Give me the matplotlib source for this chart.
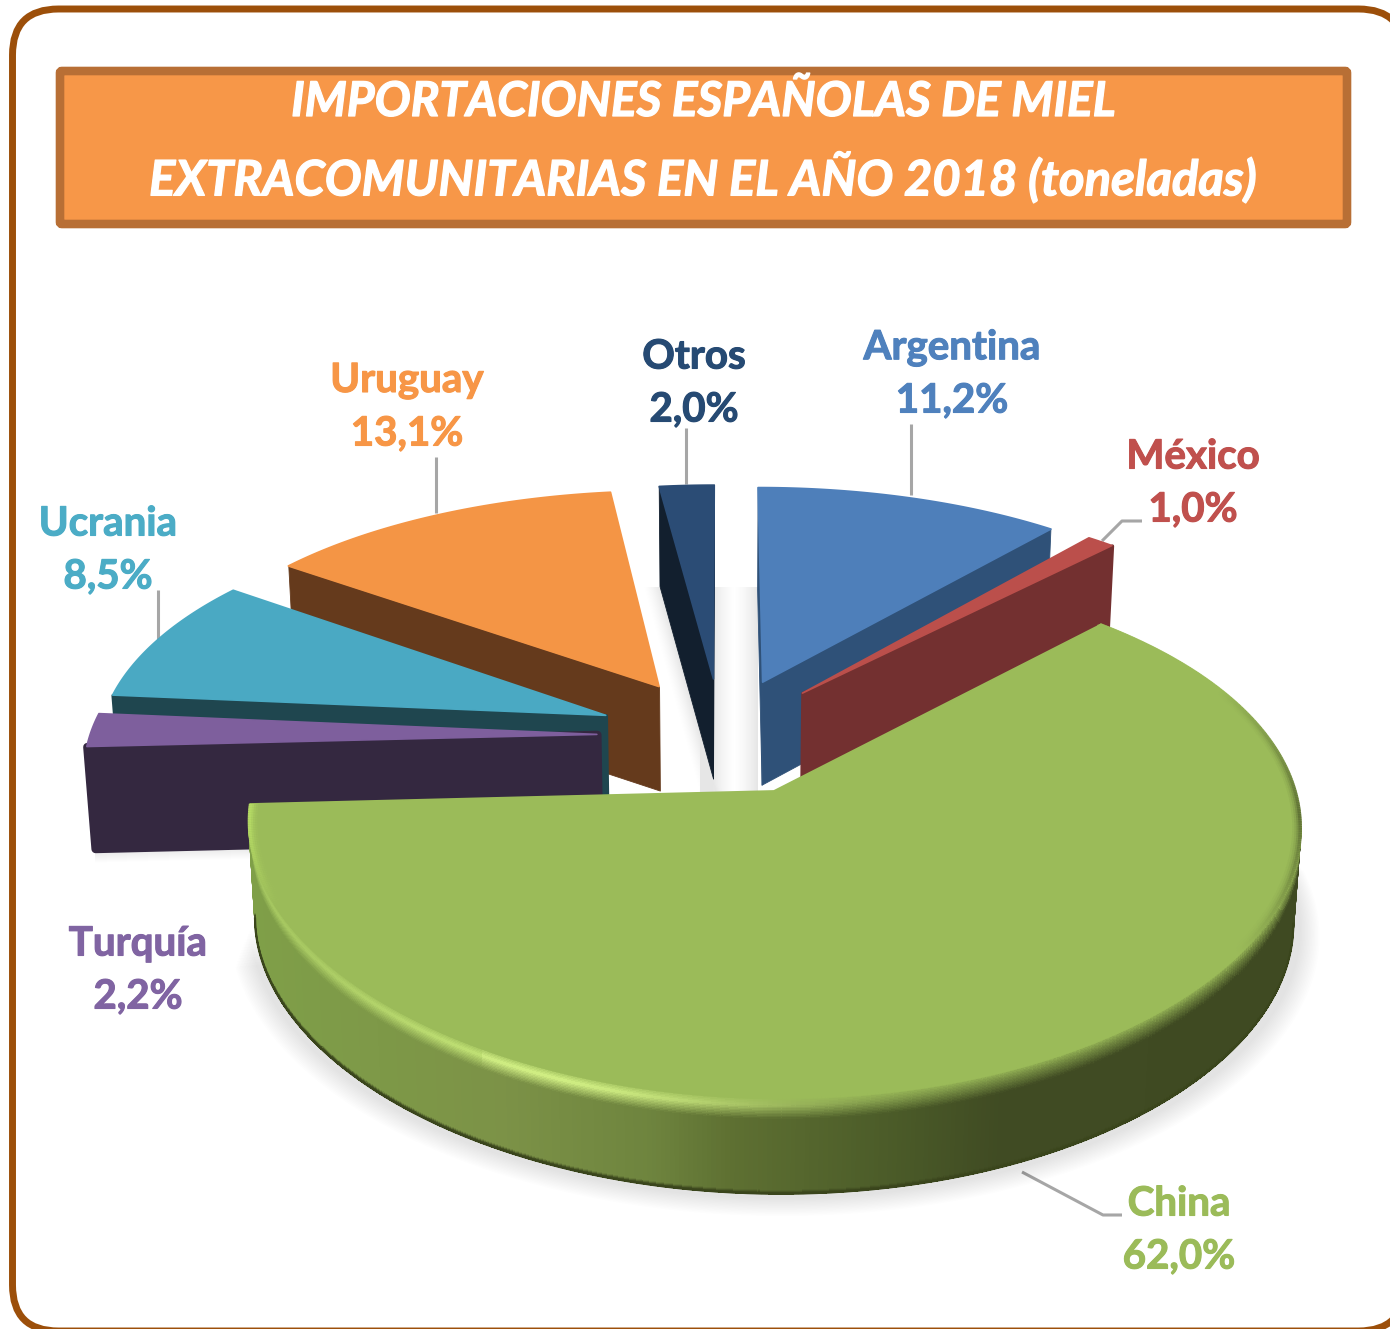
import numpy as np
import matplotlib
matplotlib.use("Agg")
import matplotlib.pyplot as plt
import matplotlib.patheffects as pe
from matplotlib.collections import PolyCollection, LineCollection
from matplotlib.colors import to_rgb
from matplotlib.patches import FancyBboxPatch, Polygon

# clockwise from 12 o'clock
names = ["Argentina", "México", "China", "Turquía", "Ucrania", "Uruguay", "Otros"]
values = [11.2, 1.0, 62.0, 2.2, 8.5, 13.1, 2.0]
top_colors = ["#4E7FBA", "#BB4F4B", "#9BBB59", "#7E5F9D", "#4AA9C3", "#F49545", "#2B4C75"]
wall_colors = ["#2F5178", "#733030", "#3F4A22", "#342840", "#1F464F", "#653A1C", "#121F2E"]
text_colors = ["#4F81BD", "#C0504D", "#9BBB59", "#8064A2", "#4BACC6", "#F79646", "#264A73"]
wall_height = [103, 100, 96, 102, 100, 104, 100]
wall_round = [0.6, 2.5, 0, 6, 2.5, 0.6, 0.6]
label_x = [952, 1193, 1179, 138, 108, 407, 694]
label_y = [346, 455, 1202, 942, 522, 379, 355]
draw_order = ["Otros", "Argentina", "Uruguay", "México", "Ucrania", "Turquía", "China"]
title_lines = ["IMPORTACIONES ESPAÑOLAS DE MIEL", "EXTRACOMUNITARIAS EN EL AÑO 2018 (toneladas)"]
title_sizes = [34.5, 35.2]

# projection of the tilted pie, in pixels
CX, CY = 721, 735.5
SCALE, DEPTH = 507, 240
PERSP_X, PERSP_Y = 0.125, 0.155
EXPLODE = 0.245
BEVEL = 22
TAPER = 0.013  # walls lean inwards going down

rim_x = [250, 500, 650, 730, 900, 1000, 1300]
rim_cols = ["#7F9F48", "#7C9247", "#6E843E", "#5E7032", "#4A5A28", "#404B23", "#3F4A22"]


def project(ang, r, mid):
    x = EXPLODE * np.sin(mid) + r * np.sin(ang)
    y = EXPLODE * np.cos(mid) + r * np.cos(ang)
    return CX + SCALE * x / (1 + PERSP_X * y), CY - DEPTH * y / (1 + PERSP_Y * y)


def down(x, y, dz, h):
    # point dz pixels below the top surface on a wall of height h
    return CX + (x - CX) * (1 - TAPER * dz / h), y + dz


def mix(a, b, t):
    return tuple((1 - t) * np.array(a) + t * np.array(b))


def china_rim(px):
    cols = np.array([to_rgb(c) for c in rim_cols])
    return tuple(np.interp(px, rim_x, cols[:, i]) for i in range(3))


def draw_walls(ax, xs, ys, wall, h, lw, z):
    # only the edges running leftwards on screen face the viewer
    polys = []
    for i in range(len(xs) - 1):
        if xs[i + 1] < xs[i]:
            polys.append([(xs[i], ys[i]), (xs[i + 1], ys[i + 1]),
                          down(xs[i + 1], ys[i + 1], h, h), down(xs[i], ys[i], h, h)])
    if polys:
        ax.add_collection(PolyCollection(polys, facecolors=wall, edgecolors=wall, linewidths=lw,
                                         joinstyle="round", zorder=z))


def draw_china_rim(ax, xs, ys, top, h, z):
    levels = np.concatenate([np.linspace(0, BEVEL, 16), [h - 3, h - 2, h - 1, h]])
    polys, cols = [], []
    under, under_cols = [], []
    for i in range(len(xs) - 1):
        if xs[i + 1] >= xs[i]:
            continue
        xm = 0.5 * (xs[i] + xs[i + 1])
        base = china_rim(xm)
        glow = np.exp(-((xm - 540) / 240.0) ** 2)
        hl = mix(mix(top, base, 0.45), to_rgb("#D4F286"), glow)
        if xm < 480:
            hl = mix(hl, to_rgb("#ADD262"), 0.4)
        under.append([(xs[i], ys[i]), (xs[i + 1], ys[i + 1]),
                      down(xs[i + 1], ys[i + 1], h, h), down(xs[i], ys[i], h, h)])
        under_cols.append(base)
        for a, b in zip(levels[:-1], levels[1:]):
            m = 0.5 * (a + b)
            if m < BEVEL * 0.4:
                c = mix(top, hl, m / (BEVEL * 0.4))
            elif m < BEVEL:
                c = mix(hl, base, (m - BEVEL * 0.4) / (BEVEL * 0.6))
            elif m > h - 3:
                c = mix(base, to_rgb("#3A451C"), (m - h + 3) / 3.0)
            else:
                c = base
            polys.append([down(xs[i], ys[i], a, h), down(xs[i + 1], ys[i + 1], a, h),
                          down(xs[i + 1], ys[i + 1], b, h), down(xs[i], ys[i], b, h)])
            cols.append(c)
    # antialiased underlay keeps the silhouette clean
    ax.add_collection(PolyCollection(under, facecolors=under_cols, edgecolors=under_cols, linewidths=1.0,
                                     zorder=z - 0.1))
    rim = PolyCollection(polys, facecolors=cols, edgecolors=cols, linewidths=0.6, antialiaseds=False, zorder=z)
    rim.set_snap(False)
    ax.add_collection(rim)
    # clean bottom outline, front part only
    front = np.r_[np.diff(xs) < 0, False]
    bx, by = down(xs[front], ys[front], h, h)
    ax.plot(bx, by, color="#3A451C", lw=1.6, zorder=z)


fig = plt.figure(figsize=(13.9, 13.29), dpi=100)
ax = fig.add_axes([0, 0, 1, 1])

# frame runs off the right and bottom of the picture
ax.add_patch(FancyBboxPatch((12.5, 9), 1392, 1322, boxstyle="round,pad=0,rounding_size=46",
                            fc="white", ec="#9C4F0A", lw=5, zorder=0))
ax.add_patch(FancyBboxPatch((60, 71), 1287, 153, boxstyle="round,pad=0,rounding_size=2",
                            fc="#F79748", ec="#B86F35", lw=6.2, zorder=1))
for line, y, size in zip(title_lines, [102, 177], title_sizes):
    ax.text(703, y, line, color="white", fontsize=size, family="Lato", weight="bold", style="italic",
            ha="center", va="center", zorder=2,
            path_effects=[pe.withStroke(linewidth=0.9, foreground="white")])

# slice angles from the values
total = sum(values)
edges = np.radians(np.cumsum([0] + values) / total * 360)

# soft grey showing in the gaps between the far slices
gx, gy = np.meshgrid(np.linspace(630, 758, 128), np.linspace(587, 800, 100))
wall_edge = 660 + (gy - 587) * (713 - 660) / (782 - 587)
alpha = 0.10 * np.maximum.reduce([np.clip(1 - (758 - gx) / 26.0, 0, 1) ** 1.5,
                                  np.clip(1 - (gx - 713) / 24.0, 0, 1) ** 1.5 * (gx >= 700),
                                  np.clip(1 - np.abs(wall_edge - gx) / 18.0, 0, 1) ** 1.5])
shade = np.zeros(gx.shape + (4,))
shade[:, :, 3] = alpha
ax.imshow(shade, extent=[630, 758, 800, 587], aspect="auto", zorder=1, interpolation="bilinear")
ax.set_xlim(0, 1390)
ax.set_ylim(1329, 0)
ax.axis("off")

for name in draw_order:
    i = names.index(name)
    a0, a1 = edges[i], edges[i + 1]
    mid = 0.5 * (a0 + a1)
    ang = np.linspace(a0, a1, max(4, int(values[i] * 8)))
    z = 3 + draw_order.index(name)
    h = wall_height[i]

    ax0, ay0 = project(0.0, 0.0, mid)
    ox, oy = project(ang, 1.0, mid)
    xs = np.r_[ax0, ox, ax0]
    ys = np.r_[ay0, oy, ay0]

    # drop shadows on the page
    if name == "China":
        for d in np.linspace(1.0, 1.035, 14):
            cut = (d - 1) * 3.0
            sang = np.linspace(a0 + 0.6 + cut, a1 - 0.1 - cut, 200)
            sx, sy = project(sang, d, mid)
            ax.add_patch(Polygon(np.c_[sx, sy + h + 5 + 130 * (d - 1)], closed=True, fc="black", ec="none",
                                 alpha=0.0085, zorder=z - 0.5))
    if name == "Turquía":
        bx0, by0 = down(ax0, ay0, h, h)
        bx1, by1 = down(ox[0], oy[0], h, h)
        for d in range(2, 15):
            ax.add_patch(Polygon([(bx0, by0), (bx1, by1), (bx1, by1 + d), (bx0, by0 + d)], closed=True,
                                 fc="black", ec="none", alpha=0.009, zorder=z - 0.5))

    if name == "China":
        draw_china_rim(ax, ox, oy, to_rgb(top_colors[i]), h, z)
    else:
        draw_walls(ax, xs, ys, wall_colors[i], h, wall_round[i], z)
    ax.add_patch(Polygon(np.c_[xs, ys], closed=True, fc=top_colors[i], ec=top_colors[i], lw=1.2,
                         joinstyle="round", zorder=z + 0.1))

    # bevel seen along the nearly vertical parts of the China edge
    if name == "China":
        top = to_rgb(top_colors[i])
        bev_ang = np.linspace(a0, a1, 600)
        for r, width, amount in [(0.988, 3, 0.08), (0.992, 3, 0.2), (0.996, 3, 0.4), (0.999, 2.5, 0.65)]:
            bx, by = project(bev_ang, r, mid)
            pts = np.c_[bx, by]
            segs = np.stack([pts[:-1], pts[1:]], axis=1)
            cols = []
            for j in range(len(segs)):
                a = np.degrees(bev_ang[j])
                right = np.clip(1 - abs(a - 95) / 30.0, 0, 1)
                left = np.clip(1 - (267 - a) / 22.0, 0, 1)
                c = mix(top, to_rgb("#3F4A22"), right * amount)
                c = mix(c, to_rgb("#B4D964"), min(1, left * amount * 2))
                cols.append(c)
            ax.add_collection(LineCollection(segs, colors=cols, linewidths=width, capstyle="butt", zorder=z + 0.2))

# leader lines
leaders = [([911, 911], [424, 495]), ([1102, 1122, 1142], [541, 521, 521]), ([686, 686], [428, 484]),
           ([436, 436], [457, 513]), ([158, 158], [590, 640]), ([1022, 1103, 1122], [1172, 1215, 1215])]
for lx, ly in leaders:
    ax.plot(lx, ly, color="#A6A6A6", lw=2.2, zorder=2, solid_capstyle="butt")

for i, name in enumerate(names):
    pct = ("%.1f" % values[i]).replace(".", ",") + "%"
    stroke = [pe.withStroke(linewidth=0.8, foreground=text_colors[i])]
    ax.text(label_x[i], label_y[i] + 2, name, color=text_colors[i], fontsize=29, family="Lato", weight="bold",
            ha="center", va="center", zorder=20, path_effects=stroke)
    ax.text(label_x[i], label_y[i] + 55, pct, color=text_colors[i], fontsize=29, family="Lato", weight="bold",
            ha="center", va="center", zorder=20, path_effects=stroke)

fig.savefig("out.png", dpi=100)
